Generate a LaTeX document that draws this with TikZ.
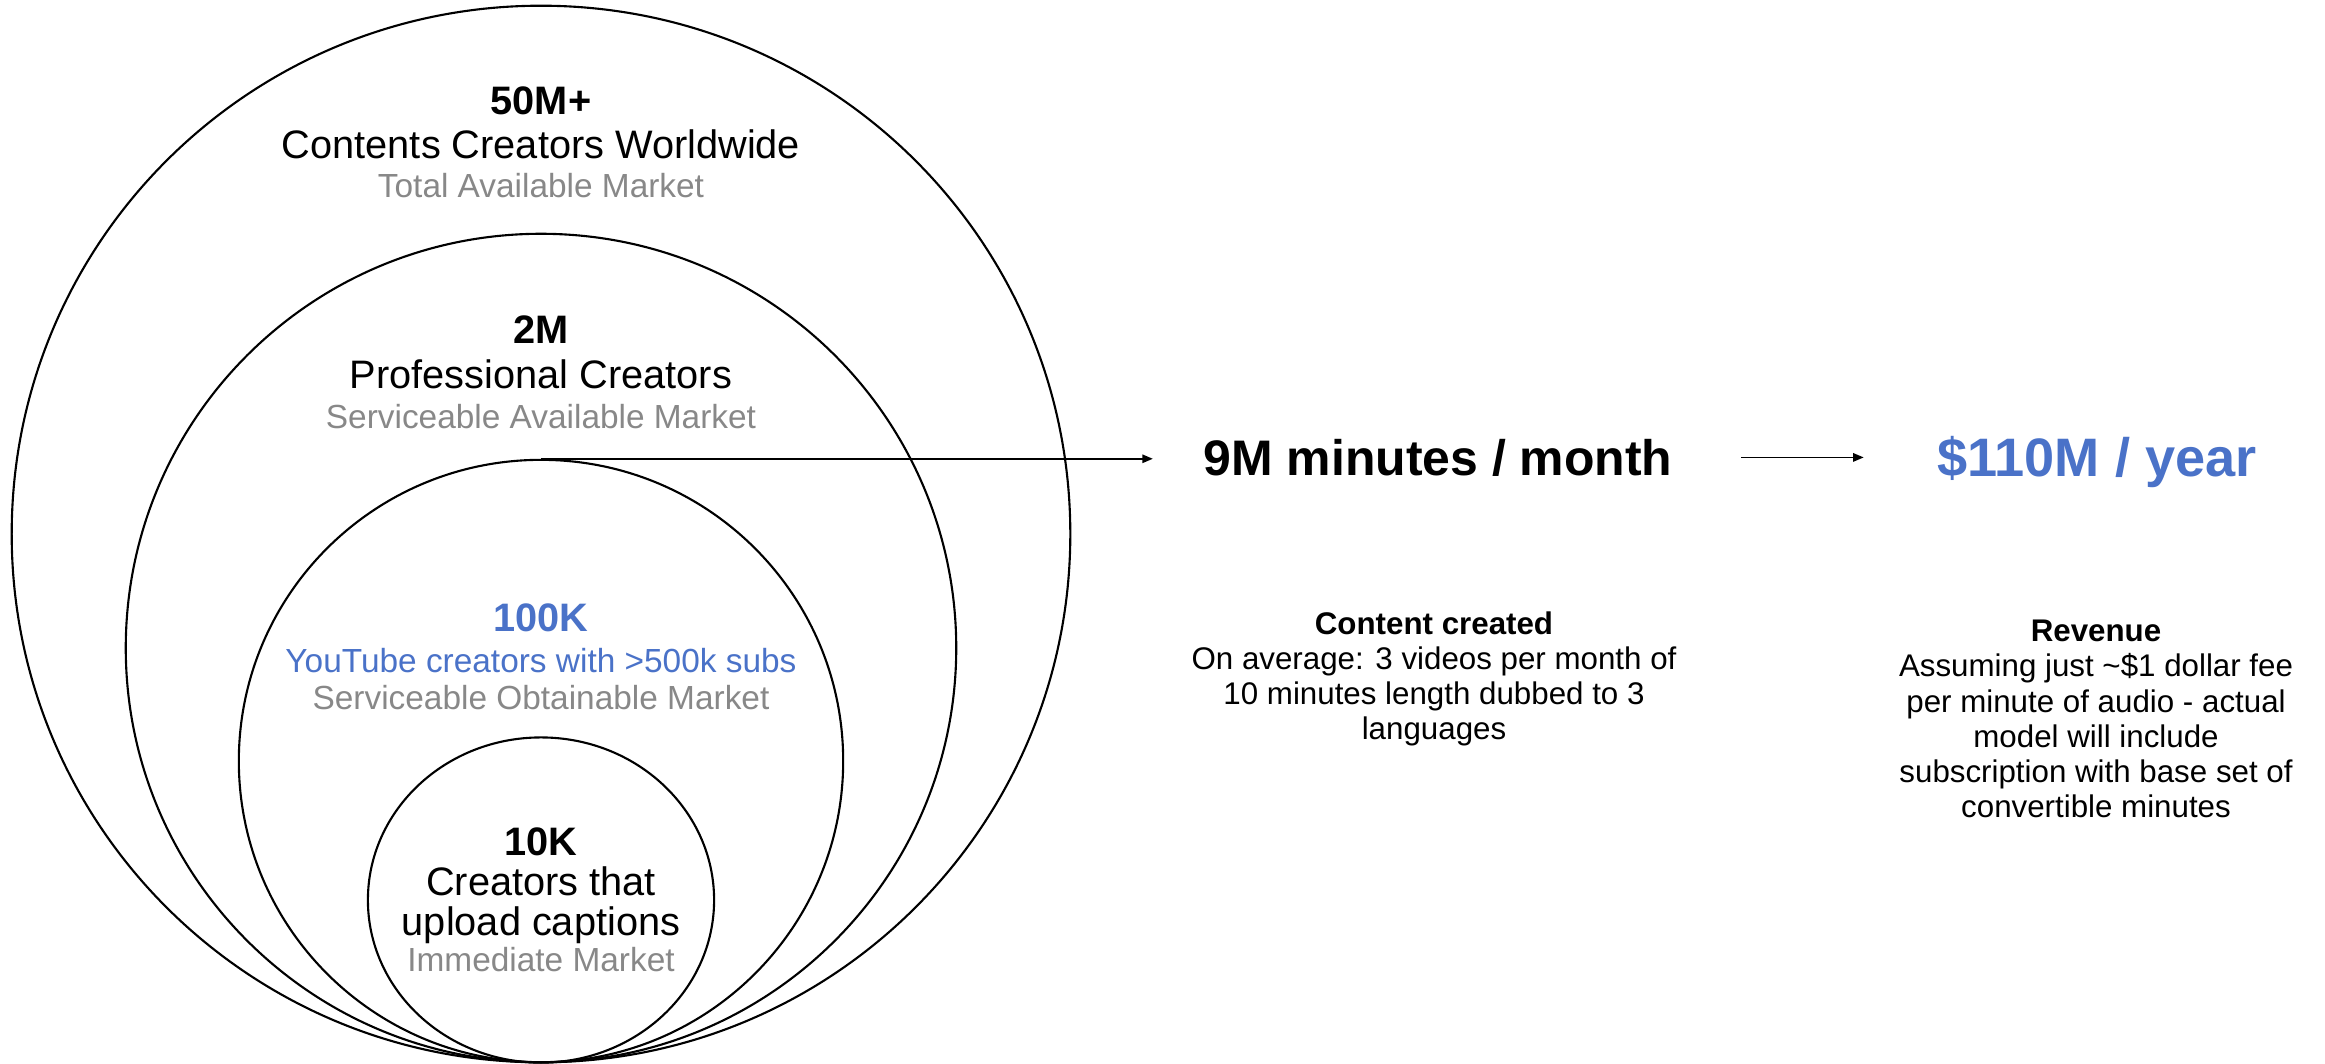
\documentclass[tikz,border=0pt]{standalone}
\usepackage{fontspec}
\setmainfont{Liberation Sans}
\usetikzlibrary{arrows.meta,shapes.geometric}
\definecolor{mktblue}{HTML}{4A72C8}
\definecolor{mktgray}{HTML}{888888}

\begin{document}
\begin{tikzpicture}[x=0.01cm,y=-0.01cm]
    \tikzstyle{ring}=[draw,ellipse,line width=0.6pt,inner sep=0pt]
    \tikzstyle{mktnum}=[anchor=base,inner sep=0pt,font=\fontsize{11.3}{12}\selectfont\bfseries]
    \tikzstyle{mkttxt}=[anchor=base,inner sep=0pt,font=\fontsize{11.3}{12}\selectfont]
    \tikzstyle{mktsub}=[anchor=base,inner sep=0pt,text=mktgray,font=\fontsize{9.5}{10}\selectfont]
    \tikzstyle{bignum}=[anchor=base,inner sep=0pt,font=\fontsize{14.2}{15}\selectfont\bfseries]
    \tikzstyle{note}=[inner sep=0pt,align=center,font=\fontsize{8.9}{10}\selectfont]
    \tikzstyle{flow}=[line width=0.45pt,-{Triangle[length=3pt,width=2.4pt]}]
    \useasboundingbox (0,0) rectangle (2325,1063);
    % nested markets, all touching at the bottom
    \draw node[ring,minimum width=10.58cm,minimum height=10.56cm](tam)at(541,534){}
          node[ring,minimum width=8.30cm,minimum height=8.28cm](sam)at(541,648){}
          node[ring,minimum width=6.04cm,minimum height=6.02cm](som)at(541,761){}
          node[ring,minimum width=3.46cm,minimum height=3.25cm](imm)at(541,900){};
    \draw node[mktnum](tamnum)at(541,114){50M+}
          node[mkttxt](tamtxt)at(541,158){Contents Creators Worldwide}
          node[mktsub](tamsub)at(541,197){Total Available Market};
    \draw node[mktnum](samnum)at(541,343){2M}
          node[mkttxt](samtxt)at(541,388){Professional Creators}
          node[mktsub](samsub)at(541,428){Serviceable Available Market};
    \draw node[mktnum,text=mktblue](somnum)at(541,631){100K}
          node[mktsub,text=mktblue](somtxt)at(541,672){YouTube creators with >500k subs}
          node[mktsub](somsub)at(541,709){Serviceable Obtainable Market};
    \draw node[mktnum](immnum)at(541,855){10K}
          node[mkttxt](immtxt)at(541,895){Creators that}
          node[mkttxt](immtxt2)at(541,935){upload captions}
          node[mktsub](immsub)at(541,971){Immediate Market};
    % figures
    \draw node[bignum](minutes)at(1438,475){9M minutes / month}
          node[bignum,text=mktblue,font=\fontsize{15.4}{16}\selectfont\bfseries](yearly)at(2097,476){\$110M / year};
    \draw node[note](created)at(1434,679){\textbf{Content created}\\On average: 3 videos per month of\\10 minutes length dubbed to 3\\languages}
          node[note](revenue)at(2096,719){\textbf{Revenue}\\Assuming just \textasciitilde\$1 dollar fee\\per minute of audio - actual\\model will include\\subscription with base set of\\convertible minutes};
    \draw[flow,shorten >=0.5cm](som.north)--(som.north-|minutes.west);
    \draw[flow,shorten <=0.68cm,shorten >=0.73cm](minutes.east)--(minutes.east-|yearly.west);
\end{tikzpicture}
\end{document}
